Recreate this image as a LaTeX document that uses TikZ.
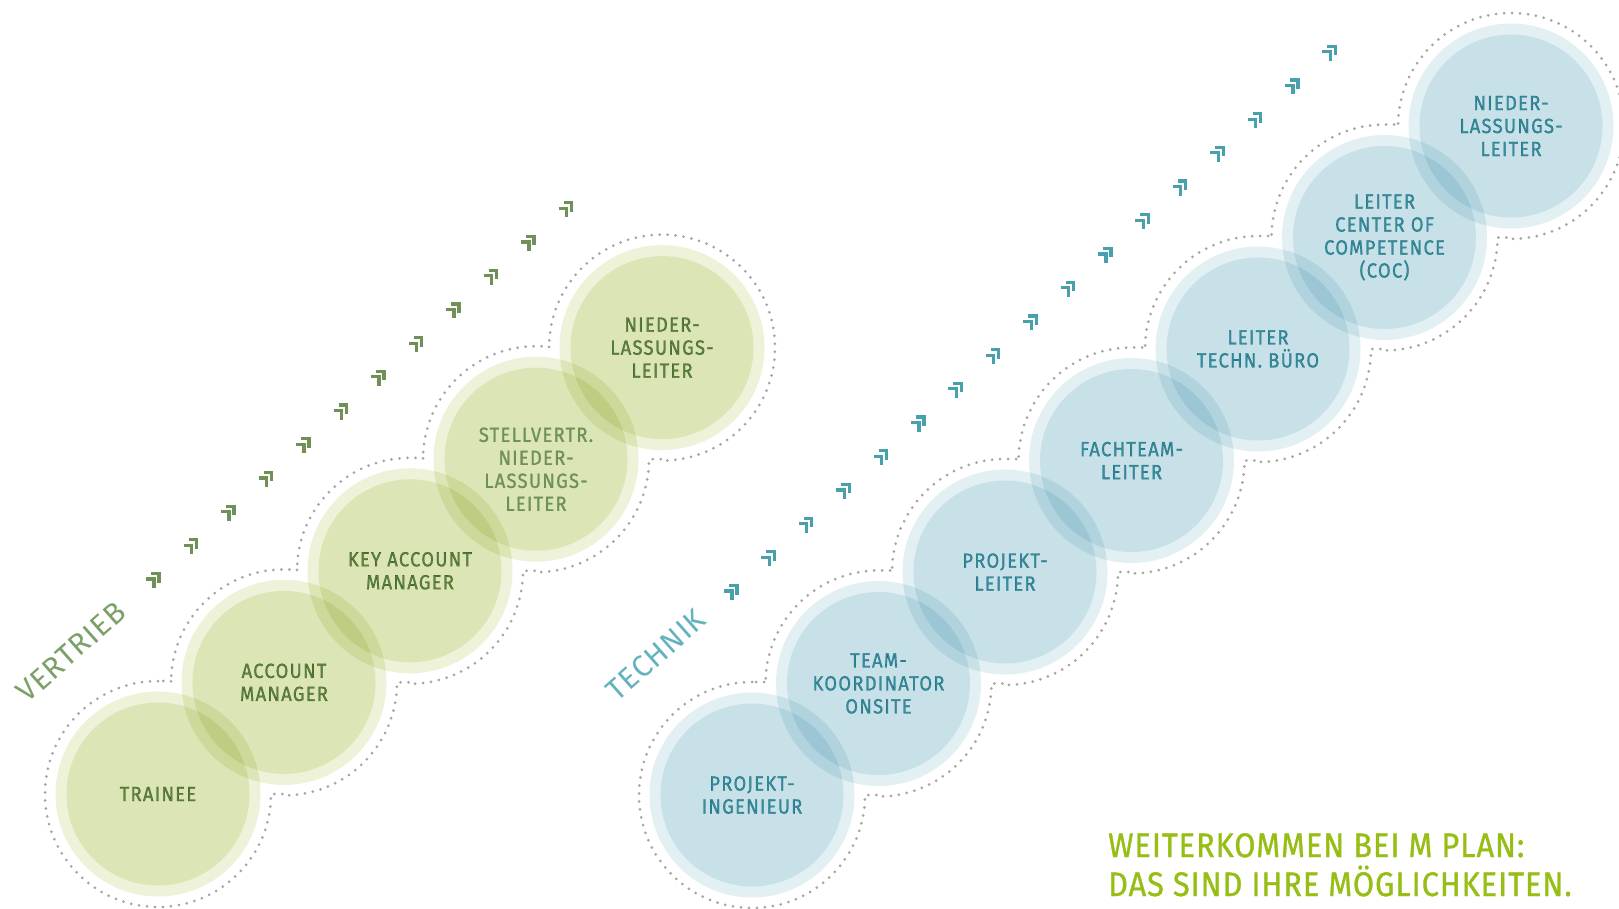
\documentclass[tikz,border=0pt]{standalone}
\usepackage{fontspec}
\setmainfont{Fira Sans}
\newfontfamily\labelfont[LetterSpace=6,FakeBold=1,FakeStretch=0.9]{Fira Sans}
\newfontfamily\claimfont[LetterSpace=3,FakeBold=1,FakeStretch=0.9]{Fira Sans}
\newfontfamily\titlefont[LetterSpace=3]{Fira Sans}
\usetikzlibrary{calc}

\definecolor{vfill}{RGB}{237,242,216}
\definecolor{vtext}{RGB}{111,145,88}
\definecolor{vtitle}{RGB}{125,160,104}
\definecolor{tfill}{RGB}{226,240,244}
\definecolor{ttext}{RGB}{72,160,172}
\definecolor{ttitle}{RGB}{100,178,190}
\definecolor{dotgray}{RGB}{165,165,165}
\definecolor{headline}{RGB}{150,190,20}

\tikzstyle{vstage} = [circle, minimum size=205pt, inner sep=0pt, fill=vfill, text=vtext, align=center, font=\labelfont\fontsize{20.5pt}{23pt}\selectfont, path picture={\fill[vfill] (path picture bounding box.center) circle (91.5pt);}]
\tikzstyle{tstage} = [circle, minimum size=205pt, inner sep=0pt, fill=tfill, text=ttext, align=center, font=\labelfont\fontsize{20.5pt}{23pt}\selectfont, path picture={\fill[tfill] (path picture bounding box.center) circle (91.5pt);}]
\tikzstyle{outline} = [draw=dotgray, line width=3pt, line cap=round, dash pattern=on 0pt off 8pt]
\tikzstyle{vchev} = [draw=vtext, line width=3.2pt]
\tikzstyle{tchev} = [draw=ttext, line width=3.2pt]
\tikzstyle{sectiontitle} = [font=\titlefont\fontsize{30pt}{32pt}\selectfont, rotate=41.5]

\begin{document}
\begin{tikzpicture}[x=1pt, y=1pt]
\fill[white] (0,0) rectangle (1619,-909);
\useasboundingbox (0,0) rectangle (1619,-909);

\begin{scope}[blend mode=multiply]
% Vertrieb
\node (v0) [vstage] at (158,-794) {TRAINEE};
\node (v1) [vstage] at (284,-682.4) {ACCOUNT\\MANAGER};
\node (v2) [vstage] at (410,-570.8) {KEY ACCOUNT\\MANAGER};
\node (v3) [vstage] at (536,-459.2) {};
\node (v4) [vstage] at (662,-347.6) {NIEDER-\\LASSUNGS-\\LEITER};

% Technik
\node (t0) [tstage] at (752,-795) {PROJEKT-\\INGENIEUR};
\node (t1) [tstage] at (878.5,-683.5) {TEAM-\\KOORDINATOR\\ONSITE};
\node (t2) [tstage] at (1005,-572) {PROJEKT-\\LEITER};
\node (t3) [tstage] at (1131.5,-460.5) {FACHTEAM-\\LEITER};
\node (t4) [tstage] at (1258,-349) {LEITER\\TECHN. BÜRO};
\node (t5) [tstage] at (1384.5,-237.5) {LEITER\\CENTER OF\\COMPETENCE\\(COC)};
\node (t6) [tstage] at (1511,-126) {NIEDER-\\LASSUNGS-\\LEITER};
\end{scope}

\node (v3txt) [text=vtext, align=center, font=\labelfont\fontsize{20.5pt}{23pt}\selectfont] at ($(v3)+(0,-10)$) {STELLVERTR.\\NIEDER-\\LASSUNGS-\\LEITER};

\draw[outline] ($(v0)+(0,113)$) arc[start angle=90, end angle=360, radius=113pt]
  -| ($(v1)+(0,-113)$) arc[start angle=270, end angle=360, radius=113pt]
  -| ($(v2)+(0,-113)$) arc[start angle=270, end angle=360, radius=113pt]
  -| ($(v3)+(0,-113)$) arc[start angle=270, end angle=360, radius=113pt]
  -| ($(v4)+(0,-113)$) arc[start angle=270, end angle=540, radius=113pt]
  |- ($(v3)+(0,113)$) arc[start angle=90, end angle=180, radius=113pt]
  |- ($(v2)+(0,113)$) arc[start angle=90, end angle=180, radius=113pt]
  |- ($(v1)+(0,113)$) arc[start angle=90, end angle=180, radius=113pt]
  |- ($(v0)+(0,113)$);

\draw[outline] ($(t0)+(0,113)$) arc[start angle=90, end angle=360, radius=113pt]
  -| ($(t1)+(0,-113)$) arc[start angle=270, end angle=360, radius=113pt]
  -| ($(t2)+(0,-113)$) arc[start angle=270, end angle=360, radius=113pt]
  -| ($(t3)+(0,-113)$) arc[start angle=270, end angle=360, radius=113pt]
  -| ($(t4)+(0,-113)$) arc[start angle=270, end angle=360, radius=113pt]
  -| ($(t5)+(0,-113)$) arc[start angle=270, end angle=360, radius=113pt]
  -| ($(t6)+(0,-113)$) arc[start angle=270, end angle=540, radius=113pt]
  |- ($(t5)+(0,113)$) arc[start angle=90, end angle=180, radius=113pt]
  |- ($(t4)+(0,113)$) arc[start angle=90, end angle=180, radius=113pt]
  |- ($(t3)+(0,113)$) arc[start angle=90, end angle=180, radius=113pt]
  |- ($(t2)+(0,113)$) arc[start angle=90, end angle=180, radius=113pt]
  |- ($(t1)+(0,113)$) arc[start angle=90, end angle=180, radius=113pt]
  |- ($(t0)+(0,113)$);

% chevrons
\foreach \i in {0,...,11}
  \draw[vchev] (153+37.5*\i,-580+33.7*\i) ++(-2,6.5) -- ++(8,0) -- ++(0,-9) ++(-13,3.5) -- ++(8,0) -- ++(0,-9);
\foreach \i in {0,...,16}
  \draw[tchev] (731+37.4*\i,-592+33.7*\i) ++(-2,6.5) -- ++(8,0) -- ++(0,-9) ++(-13,3.5) -- ++(8,0) -- ++(0,-9);

\node (vname) [sectiontitle, text=vtitle] at (71,-652) {VERTRIEB};
\node (tname) [sectiontitle, text=ttitle] at (656,-655) {TECHNIK};

\node (claim) [anchor=base west, align=left, text=headline, font=\claimfont\fontsize{34pt}{39pt}\selectfont, inner sep=0pt] at (1108,-896) {WEITERKOMMEN BEI M PLAN:\\DAS SIND IHRE MÖGLICHKEITEN.};
\end{tikzpicture}
\end{document}
